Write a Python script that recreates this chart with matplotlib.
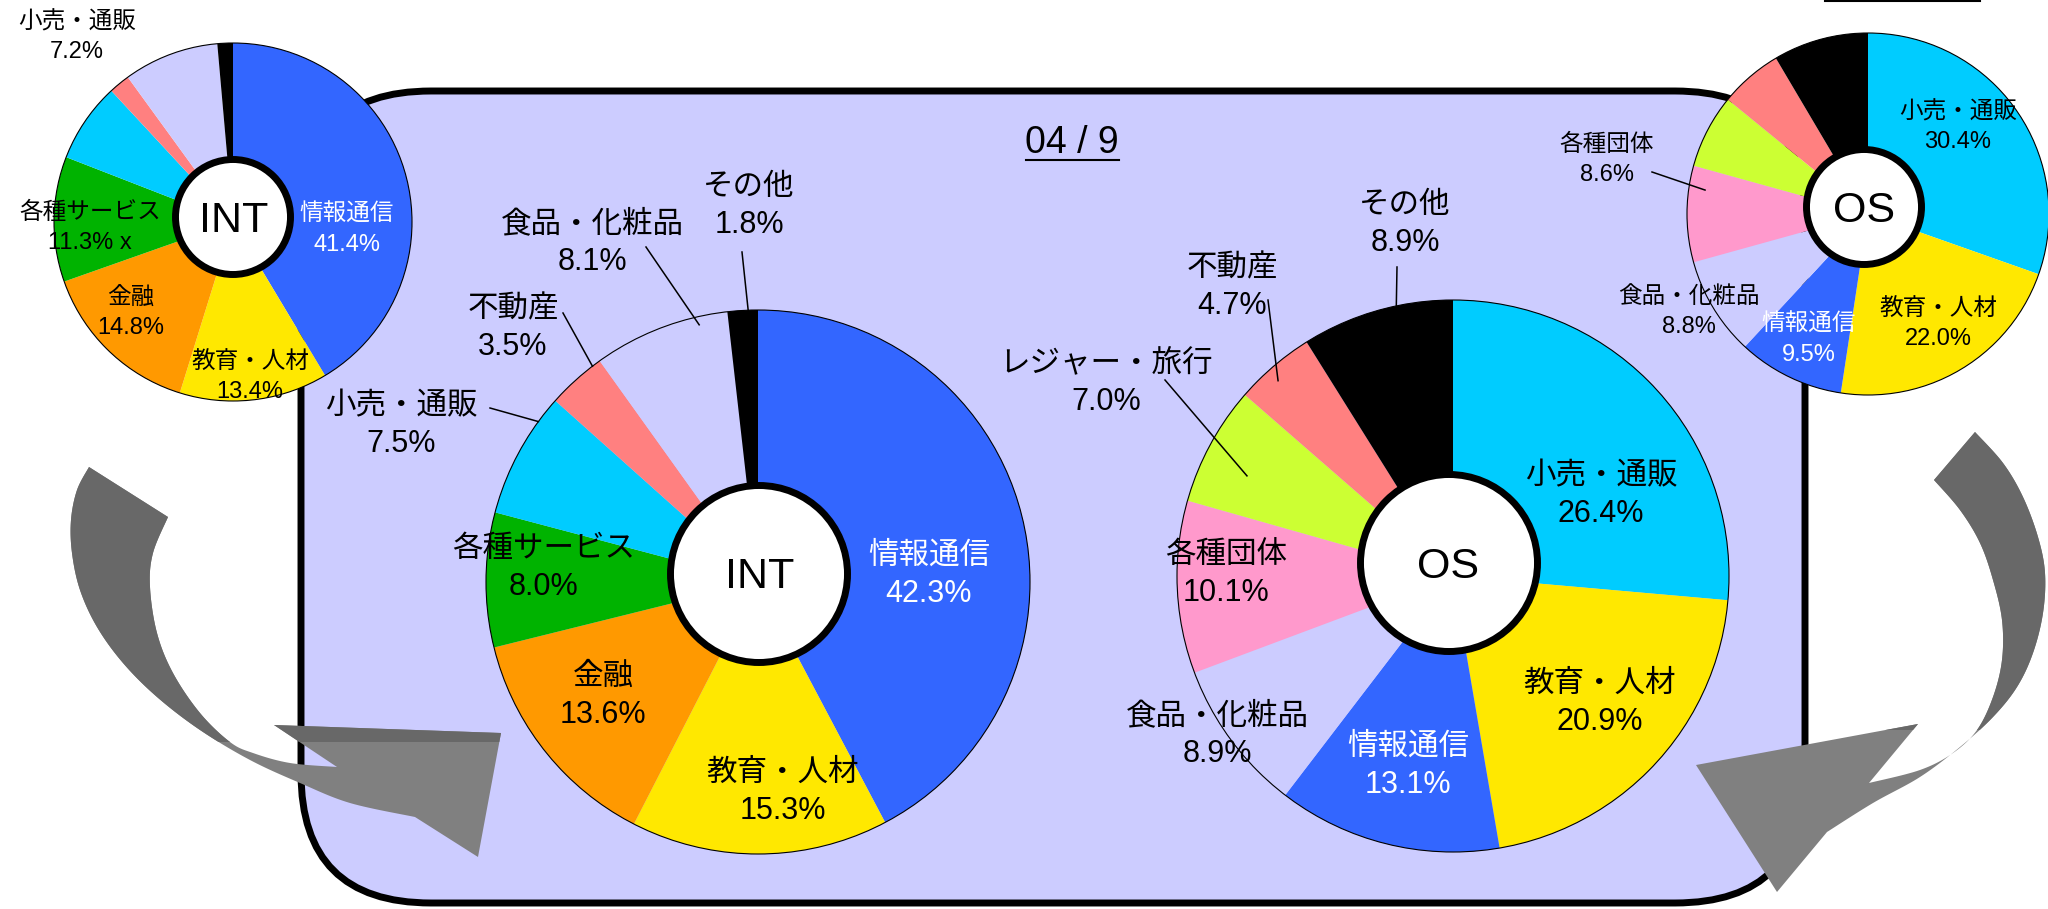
import numpy as np
import matplotlib
matplotlib.use('Agg')
import matplotlib.pyplot as plt
from matplotlib.patches import Circle, FancyBboxPatch, Polygon, Rectangle

plt.rcParams['font.family'] = ['Liberation Sans', 'Noto Sans CJK JP']

W, H = 2048, 909

# データ (04/9)
int_names = ['情報通信', '教育・人材', '金融', '各種サービス', '小売・通販', '不動産', '食品・化粧品', 'その他']
int_values = [42.3, 15.3, 13.6, 8.0, 7.5, 3.5, 8.1, 1.8]
os_names = ['小売・通販', '教育・人材', '情報通信', '食品・化粧品', '各種団体', 'レジャー・旅行', '不動産', 'その他']
os_values = [26.4, 20.9, 13.1, 8.9, 10.1, 7.0, 4.7, 8.9]

# 前回 (小さい円)
int_prev_values = [41.4, 13.4, 14.8, 11.3, 7.2, 1.9, 8.6, 1.4]
os_prev_values = [30.4, 22.0, 9.5, 8.8, 8.6, 6.6, 5.6, 8.5]

month_label = '04 / 9'

colors = {
    '情報通信': '#3366FF', '教育・人材': '#FFE800', '金融': '#FF9900',
    '各種サービス': '#00B300', '小売・通販': '#00CCFF', '不動産': '#FF8080',
    '食品・化粧品': '#CCCCFF', 'その他': '#000000', '各種団体': '#FF99CC',
    'レジャー・旅行': '#CCFF33',
}


def P(x, y):
    # ピクセル座標 (上から) -> 軸座標
    return x, H - y


def rim_point(cx, cy, r, values, i, t, rf):
    total = sum(values)
    frac = (sum(values[:i]) + t * values[i]) / total
    ang = np.radians(90 - 360 * frac)
    x, y = P(cx, cy)
    return x + rf * r * np.cos(ang), y + rf * r * np.sin(ang)


def donut(ax, center, r, names, values, hole, hole_r, title, title_pos,
          label_pos, fs, gap, leaders={}, extra={}):
    cols = [colors[n] for n in names]
    ax.pie(values, colors=cols, startangle=90, counterclock=False,
           center=P(*center), radius=r, frame=True,
           wedgeprops=dict(linewidth=0, zorder=3))
    ax.add_patch(Circle(P(*center), r, fill=False, ec='k', lw=0.8, zorder=4))
    ax.add_patch(Circle(P(*hole), hole_r - 3.5, fc='white', ec='k', lw=5, zorder=5))
    ax.text(*P(*title_pos), title, fontsize=31, ha='center', va='center', zorder=6)

    for i, pos in enumerate(label_pos):
        if pos is None:
            continue
        c = 'white' if names[i] == '情報通信' else 'black'
        x, y = pos
        ax.text(*P(x, y - gap / 2), names[i], fontsize=fs, color=c,
                ha='center', va='center', zorder=6)
        ax.text(*P(x, y + gap / 2), f'{values[i]:.1f}%' + extra.get(i, ''),
                fontsize=fs, color=c, ha='center', va='center', zorder=6)

    for i, (start, t, rf) in leaders.items():
        sx, sy = P(*start)
        ex, ey = rim_point(center[0], center[1], r, values, i, t, rf)
        ax.plot([sx, ex], [sy, ey], color='k', lw=1.1, zorder=4)


def smooth(pts, n=14):
    p = np.asarray(pts, float)
    p = np.vstack([p[0], p, p[-1]])
    out = []
    for i in range(1, len(p) - 2):
        p0, p1, p2, p3 = p[i - 1], p[i], p[i + 1], p[i + 2]
        t = np.linspace(0, 1, n, endpoint=False)[:, None]
        out.append(0.5 * (2 * p1 + (-p0 + p2) * t + (2 * p0 - 5 * p1 + 4 * p2 - p3) * t ** 2
                          + (-p0 + 3 * p1 - 3 * p2 + p3) * t ** 3))
    out.append(p[-2][None])
    return np.vstack(out)


def arrow(ax, outer, head, inner, split_y):
    pts = np.vstack([smooth(outer), np.array(head, float), smooth(inner)])
    pts[:, 1] = H - pts[:, 1]
    ax.add_patch(Polygon(pts, closed=True, fc='#808080', ec='none', zorder=2))
    dark = Polygon(pts, closed=True, fc='#686868', ec='none', zorder=2.1)
    ax.add_patch(dark)
    clip = Rectangle((0, H - split_y), W, split_y, transform=ax.transData)
    dark.set_clip_path(clip)


fig = plt.figure(figsize=(20.48, 9.09), dpi=100)
ax = fig.add_axes([0, 0, 1, 1])

# 背景の角丸枠
ax.add_patch(FancyBboxPatch((301, H - 903), 1504, 812,
                            boxstyle='round,pad=0,rounding_size=130',
                            fc='#CCCCFF', ec='k', lw=5, zorder=1))

# 矢印
arrow(ax,
      [(89, 467), (77, 490), (71, 520), (72, 553), (80, 590), (97, 627), (123, 663),
       (157, 697), (200, 730), (250, 760), (300, 783), (350, 803), (415, 817)],
      [(478, 857), (501, 733), (274, 725)],
      [(337, 767), (290, 763), (253, 753), (230, 742), (200, 713), (173, 673),
       (157, 633), (150, 587), (153, 553), (168, 517)],
      742)
arrow(ax,
      [(1975, 432), (2003, 463), (2023, 497), (2038, 537), (2045, 573), (2043, 613),
       (2033, 653), (2017, 687), (1993, 717), (1960, 747), (1920, 777), (1873, 803),
       (1827, 832)],
      [(1777, 892), (1696, 765), (1918, 724)],
      [(1869, 783), (1920, 770), (1953, 753), (1977, 730), (1993, 697), (2002, 660),
       (2002, 620), (1993, 580), (1980, 543), (1960, 510), (1934, 480)],
      730)

# 大きい円 INT
donut(ax, (758, 582), 272, int_names, int_values, (759, 574), 92, 'INT', (760, 577),
      [(929, 575), (783, 792), (603, 696), (544, 568), (401, 425), (513, 328),
       (592, 243), (749, 206)],
      22, 38,
      leaders={7: ((742, 252), 0.68, 1.0), 6: ((646, 247), 0.78, 0.97),
               5: ((563, 313), 0.85, 1.0), 4: ((490, 408), 0.79, 1.0)})

# 大きい円 OS
donut(ax, (1453, 576), 276, os_names, os_values, (1449, 563), 92, 'OS', (1448, 567),
      [(1601, 495), (1600, 703), (1408, 766), (1217, 735), (1226, 574), (1106, 383),
       (1232, 287), (1405, 224)],
      22, 38,
      leaders={7: ((1397, 267), 0.63, 1.0), 6: ((1268, 300), 0.42, 0.95),
               5: ((1165, 380), 0.4, 0.83)})

# 小さい円 (前回)
donut(ax, (233, 222), 179, int_names, int_prev_values, (233, 217), 61, 'INT', (234, 221),
      [(347, 230), (250, 377), (131, 313), (90, 228), (77, 37), None, None, None],
      17, 30, extra={3: ' x'})
donut(ax, (1868, 214), 181, os_names, os_prev_values, (1864, 207), 61, 'OS', (1864, 211),
      [(1958, 127), (1938, 324), (1809, 340), (1689, 312), (1607, 160), None, None, None],
      17, 30, leaders={4: ((1652, 172), 0.77, 0.91)})

# タイトル
ax.text(*P(1072, 143), month_label, fontsize=27, ha='center', va='center', zorder=6)
ax.plot([1026, 1119], [H - 160, H - 160], color='k', lw=1.5, zorder=6)
ax.plot([1825, 1980], [H - 1, H - 1], color='k', lw=1.5, zorder=6)

ax.set_xlim(0, W)
ax.set_ylim(0, H)
ax.set_axis_off()

fig.savefig('out.png', dpi=100, facecolor='white')
